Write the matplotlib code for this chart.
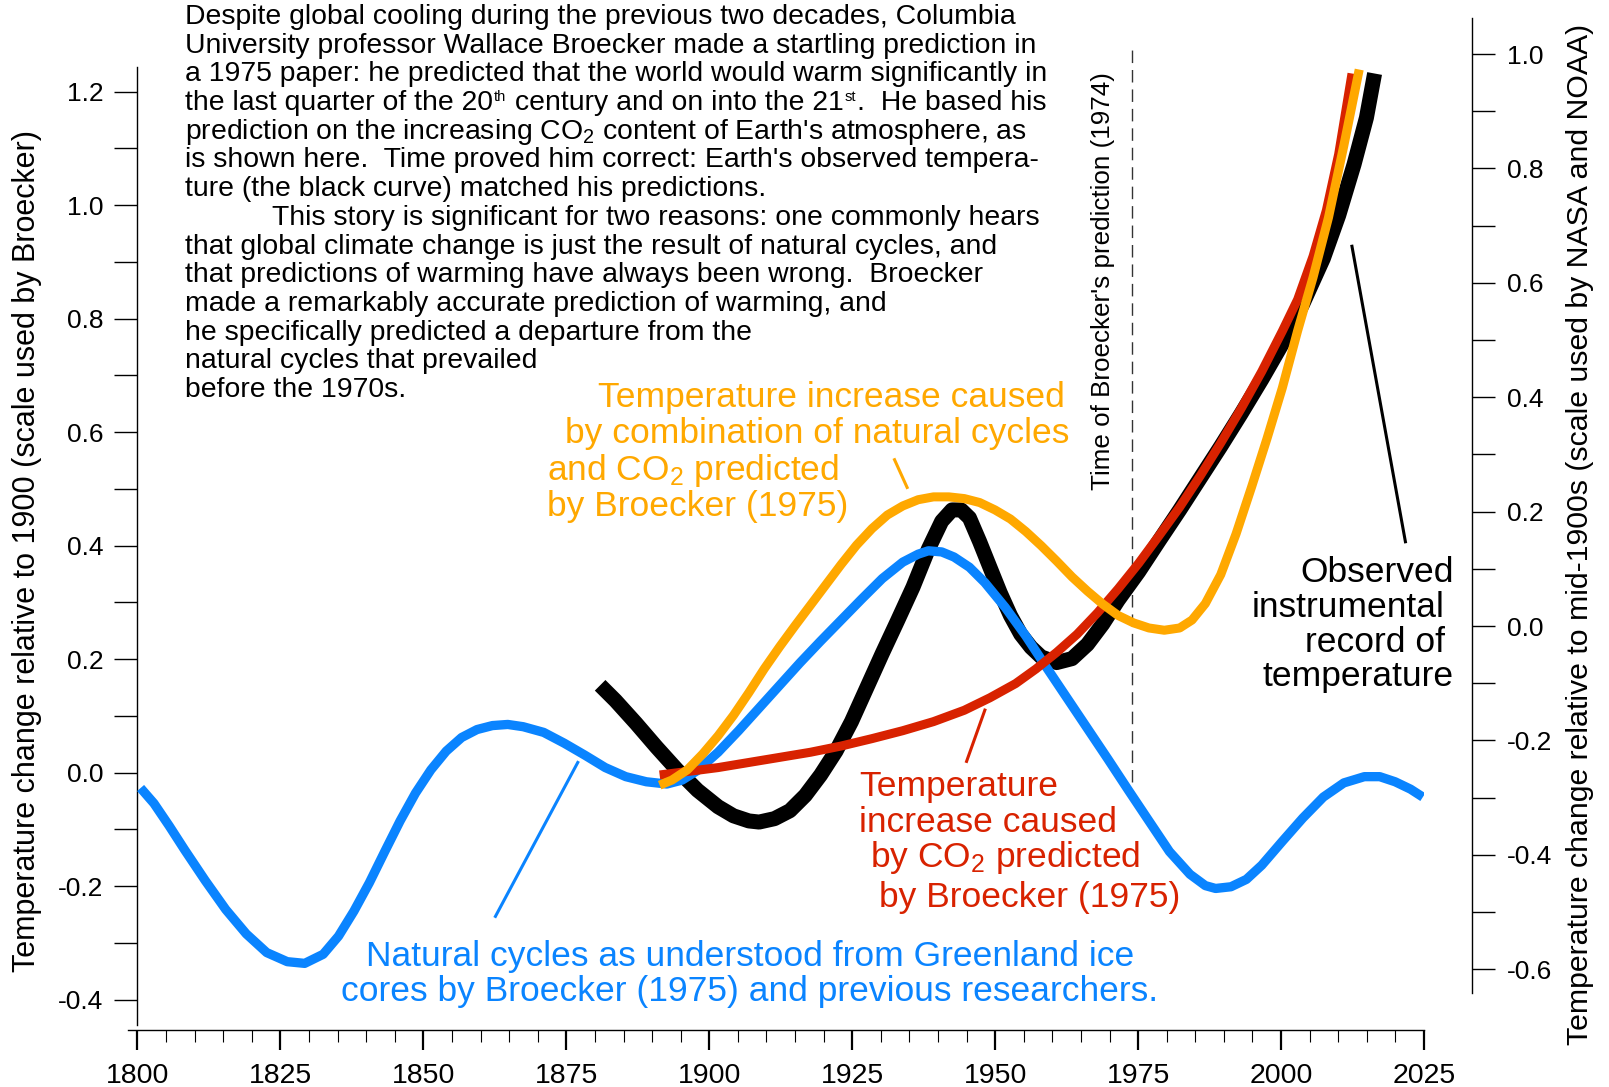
import matplotlib
matplotlib.use('Agg')
import matplotlib.pyplot as plt
from matplotlib.ticker import MultipleLocator, FormatStrFormatter

plt.rcParams['font.family'] = 'Liberation Sans'
plt.rcParams['mathtext.fontset'] = 'custom'
plt.rcParams['mathtext.rm'] = 'Liberation Sans'
plt.rcParams['mathtext.it'] = 'Liberation Sans:italic'
plt.rcParams['mathtext.bf'] = 'Liberation Sans:bold'
plt.rcParams['axes.unicode_minus'] = False

BLUE = '#0A84FF'
ORANGE = '#FFA800'
RED = '#D82200'

# --- natural cycles (Greenland ice cores, Broecker 1975) ---
natural_years = [1800.54, 1802.87, 1805.56, 1808.25, 1811.84, 1815.43, 1819.02, 1822.60,
                 1826.19, 1829.24, 1832.47, 1835.16, 1837.85, 1840.55, 1843.24, 1845.93,
                 1848.62, 1851.31, 1854.00, 1856.69, 1859.38, 1862.07, 1864.76, 1867.46,
                 1871.04, 1874.63, 1878.22, 1881.81, 1885.40, 1888.99, 1892.57, 1895.26,
                 1897.95, 1901.54, 1905.13, 1908.72, 1912.31, 1915.90, 1919.48, 1923.07,
                 1926.66, 1930.25, 1933.84, 1936.53, 1938.32, 1940.65, 1942.81, 1945.50,
                 1948.19, 1951.78, 1955.36, 1958.95, 1962.54, 1966.13, 1969.72, 1973.31,
                 1976.89, 1980.48, 1984.07, 1986.76, 1988.55, 1991.24, 1993.94, 1996.63,
                 2000.22, 2003.80, 2007.39, 2010.98, 2014.57, 2017.26, 2019.95, 2022.64,
                 2024.80]
natural_temp = [-0.027, -0.054, -0.094, -0.136, -0.190, -0.241, -0.284, -0.317,
                -0.333, -0.336, -0.320, -0.288, -0.244, -0.194, -0.139, -0.085,
                -0.036, 0.005, 0.038, 0.062, 0.076, 0.083, 0.085, 0.081,
                0.071, 0.052, 0.031, 0.009, -0.007, -0.016, -0.020, -0.013,
                0.004, 0.036, 0.074, 0.114, 0.154, 0.194, 0.232, 0.269,
                0.306, 0.342, 0.371, 0.385, 0.391, 0.389, 0.380, 0.362,
                0.335, 0.291, 0.241, 0.186, 0.132, 0.078, 0.024, -0.031,
                -0.085, -0.139, -0.179, -0.199, -0.204, -0.201, -0.188, -0.163,
                -0.121, -0.080, -0.043, -0.018, -0.007, -0.007, -0.016, -0.029,
                -0.043]

# --- observed instrumental record ---
observed_years = [1880.91, 1883.60, 1887.19, 1890.78, 1894.37, 1897.95, 1901.54, 1904.23,
                  1906.92, 1908.72, 1911.41, 1914.10, 1916.79, 1919.48, 1922.17, 1924.87,
                  1927.56, 1930.25, 1932.94, 1935.63, 1938.32, 1940.65, 1942.45, 1944.06,
                  1945.50, 1947.29, 1949.08, 1950.88, 1952.67, 1954.47, 1956.26, 1958.05,
                  1960.75, 1963.44, 1966.13, 1968.82, 1971.51, 1975.10, 1978.69, 1982.27,
                  1985.86, 1989.45, 1993.04, 1996.63, 2000.22, 2003.80, 2007.39, 2010.08,
                  2012.77, 2014.93, 2016.36]
observed_temp = [0.154, 0.127, 0.087, 0.045, 0.005, -0.031, -0.060, -0.076,
                 -0.085, -0.087, -0.081, -0.067, -0.040, -0.004, 0.038, 0.090,
                 0.150, 0.210, 0.268, 0.327, 0.394, 0.443, 0.463, 0.463,
                 0.449, 0.407, 0.362, 0.317, 0.277, 0.244, 0.221, 0.204,
                 0.194, 0.201, 0.226, 0.262, 0.304, 0.354, 0.409, 0.463,
                 0.519, 0.575, 0.633, 0.693, 0.756, 0.826, 0.906, 0.982,
                 1.072, 1.154, 1.232]

# --- natural cycles + CO2 (Broecker 1975) ---
combined_years = [1891.32, 1893.47, 1896.16, 1898.85, 1901.54, 1904.23, 1906.92, 1909.61,
                  1912.31, 1915.00, 1917.69, 1920.38, 1923.07, 1925.76, 1928.45, 1931.14,
                  1933.84, 1936.53, 1939.22, 1941.91, 1944.60, 1947.29, 1949.98, 1952.67,
                  1955.36, 1958.05, 1960.75, 1963.44, 1966.13, 1968.82, 1971.51, 1974.20,
                  1976.89, 1979.58, 1982.27, 1984.43, 1986.76, 1989.45, 1992.14, 1994.83,
                  1997.52, 2000.22, 2002.91, 2005.60, 2008.29, 2010.98, 2013.67]
combined_temp = [-0.022, -0.013, 0.005, 0.033, 0.065, 0.101, 0.141, 0.183,
                 0.222, 0.259, 0.295, 0.331, 0.367, 0.401, 0.430, 0.454,
                 0.470, 0.481, 0.486, 0.486, 0.483, 0.476, 0.463, 0.447,
                 0.425, 0.400, 0.373, 0.345, 0.320, 0.297, 0.277, 0.264,
                 0.255, 0.251, 0.255, 0.269, 0.298, 0.349, 0.421, 0.503,
                 0.588, 0.678, 0.779, 0.873, 0.978, 1.105, 1.239]

# --- CO2 only (Broecker 1975) ---
co2_years = [1891.32, 1896.16, 1901.54, 1906.92, 1912.31, 1917.69, 1923.07, 1928.45,
             1933.84, 1939.22, 1944.60, 1949.08, 1953.57, 1957.16, 1960.75, 1964.33,
             1967.92, 1971.51, 1975.10, 1978.69, 1982.27, 1985.86, 1989.45, 1993.04,
             1996.63, 2000.22, 2002.91, 2005.60, 2007.93, 2010.08, 2012.41]
co2_temp = [-0.004, 0.002, 0.009, 0.018, 0.027, 0.036, 0.047, 0.060,
            0.074, 0.090, 0.110, 0.132, 0.157, 0.183, 0.212, 0.244,
            0.282, 0.324, 0.369, 0.418, 0.468, 0.523, 0.581, 0.642,
            0.707, 0.778, 0.834, 0.910, 0.991, 1.090, 1.232]

prediction_year = 1974

# paragraph; line 4 is built in pieces so the ordinals can be small superscripts
story_lines = [
    "Despite global cooling during the previous two decades, Columbia",
    "University professor Wallace Broecker made a startling prediction in",
    "a 1975 paper: he predicted that the world would warm significantly in",
    None,
    r"prediction on the increasing CO$_{2}$ content of Earth's atmosphere, as",
    "is shown here.  Time proved him correct: Earth's observed tempera-",
    "ture (the black curve) matched his predictions.",
    "This story is significant for two reasons: one commonly hears",
    "that global climate change is just the result of natural cycles, and",
    "that predictions of warming have always been wrong.  Broecker",
    "made a remarkably accurate prediction of warming, and",
    "he specifically predicted a departure from the",
    "natural cycles that prevailed",
    "before the 1970s.",
]
ordinal_line = ["the last quarter of the 20", "th",
                " century and on into the 21", "st", ".  He based his"]

fig = plt.figure(figsize=(16.09, 10.87), dpi=100)
ax = fig.add_axes([0.07977, 0.05244, 0.80525, 0.8862])
ax.set_xlim(1798.4, 2025)
ax.set_ylim(-0.4534, 1.244)

ax.plot([prediction_year, prediction_year], [-0.016, 1.275], color='#333333',
        lw=1.0, dashes=(9, 5), clip_on=False, zorder=1)

ax.plot(observed_years, observed_temp, color='black', lw=10.8,
        solid_capstyle='butt', solid_joinstyle='round', zorder=2)
ax.plot(natural_years, natural_temp, color=BLUE, lw=6.7,
        solid_capstyle='butt', solid_joinstyle='round', zorder=3)
ax.plot(co2_years, co2_temp, color=RED, lw=6.5,
        solid_capstyle='butt', solid_joinstyle='round', zorder=4, clip_on=False)
ax.plot(combined_years, combined_temp, color=ORANGE, lw=6.5,
        solid_capstyle='butt', solid_joinstyle='round', zorder=5, clip_on=False)

# spines and ticks
for s in ['top', 'right']:
    ax.spines[s].set_visible(False)
ax.spines['left'].set_position(('data', 1800))
ax.spines['left'].set_bounds(-0.445, 1.244)
ax.spines['left'].set_linewidth(1.0)
ax.spines['bottom'].set_linewidth(1.0)

ax.xaxis.set_major_locator(MultipleLocator(25))
ax.xaxis.set_minor_locator(MultipleLocator(5))
ax.tick_params(axis='x', which='major', length=14.4, width=1.6, pad=9.5,
               labelsize=20.5, direction='out')
ax.tick_params(axis='x', which='minor', length=8.6, width=0.8, direction='out')

ax.set_yticks([-0.4, -0.2, 0.0, 0.2, 0.4, 0.6, 0.8, 1.0, 1.2])
ax.yaxis.set_minor_locator(MultipleLocator(0.1))
ax.yaxis.set_major_formatter(FormatStrFormatter('%.1f'))
ax.tick_params(axis='y', which='both', length=16.5, width=1.0, direction='out')
ax.tick_params(axis='y', which='major', labelsize=19, pad=8)

# right-hand scale (NASA / NOAA)
ax2 = fig.add_axes([0.91361, 0.08611, 0.001, 0.89688])
ax2.set_ylim(-0.6423, 1.0621)
ax2.patch.set_visible(False)
for s in ['top', 'bottom', 'left']:
    ax2.spines[s].set_visible(False)
ax2.spines['right'].set_linewidth(1.0)
ax2.set_xticks([])
ax2.yaxis.tick_right()
ax2.set_yticks([-0.6, -0.4, -0.2, 0.0, 0.2, 0.4, 0.6, 0.8, 1.0])
ax2.yaxis.set_minor_locator(MultipleLocator(0.1))
ax2.yaxis.set_major_formatter(FormatStrFormatter('%.1f'))
ax2.tick_params(axis='y', which='both', length=16.3, width=1.0, direction='out')
ax2.tick_params(axis='y', which='major', labelsize=19, pad=9)

fig.text(27 / 1609, 1 - 551 / 1087,
         'Temperature change relative to 1900 (scale used by Broecker)',
         rotation=90, ha='center', va='center', fontsize=22)
fig.text(1580 / 1609, 1 - 534 / 1087,
         'Temperature change relative to mid-1900s (scale used by NASA and NOAA)',
         rotation=90, ha='center', va='center', fontsize=21.8)

# explanatory paragraph
PARA = 20.4
for i, line in enumerate(story_lines):
    x = 1823.5 if i == 7 else 1808.3
    y = 1.3193 - 0.05057 * i
    if line is not None:
        ax.text(x, y, line, fontsize=PARA, va='baseline', ha='left')
        continue
    base = ax.text(x, y, ordinal_line[0], fontsize=PARA, va='baseline', ha='left')
    prev = base
    for j, piece in enumerate(ordinal_line[1:]):
        if j % 2 == 0:   # superscript
            prev = ax.annotate(piece, xy=(1, 1), xycoords=(prev, base),
                               xytext=(0.6, 0), textcoords='offset points',
                               fontsize=10.5, va='top', ha='left')
        else:
            prev = ax.annotate(piece, xy=(1, 0), xycoords=(prev, base),
                               xytext=(0.6, 0), textcoords='offset points',
                               fontsize=PARA, va='bottom', ha='left')

ax.text(1968.8, 0.8664, "Time of Broecker's prediction (1974)", rotation=90,
        ha='center', va='center', fontsize=18.7)

# orange label
ax.text(1880.5, 0.6444, 'Temperature increase caused', color=ORANGE, fontsize=25.5, va='baseline')
ax.text(1874.7, 0.5810, 'by combination of natural cycles', color=ORANGE, fontsize=25.5, va='baseline')
ax.text(1871.6, 0.5158, r'and CO$_{2}$ predicted', color=ORANGE, fontsize=25.5, va='baseline')
ax.text(1871.6, 0.4523, 'by Broecker (1975)', color=ORANGE, fontsize=25.5, va='baseline')
ax.plot([1932.4, 1934.6], [0.5515, 0.5026], color=ORANGE, lw=2.2, clip_on=False)

# red label
ax.text(1926.2, -0.0411, 'Temperature', color=RED, fontsize=25.5, va='baseline')
ax.text(1926.2, -0.1040, 'increase caused', color=RED, fontsize=25.5, va='baseline')
ax.text(1928.1, -0.1667, r'by CO$_{2}$ predicted', color=RED, fontsize=25.5, va='baseline')
ax.text(1929.7, -0.2361, 'by Broecker (1975)', color=RED, fontsize=25.5, va='baseline')
ax.plot([1948.2, 1945.0], [0.1103, 0.0199], color=RED, lw=2.2)

# blue label
ax.text(1907.1, -0.3401, 'Natural cycles as understood from Greenland ice',
        color=BLUE, fontsize=25.5, va='baseline', ha='center')
ax.text(1907.1, -0.4016, 'cores by Broecker (1975) and previous researchers.',
        color=BLUE, fontsize=25.5, va='baseline', ha='center')
ax.plot([1877.0, 1862.6], [0.0180, -0.2532], color=BLUE, lw=2.2)

# black label
ax.text(2003.4, 0.3366, 'Observed', color='black', fontsize=25.5, va='baseline')
ax.text(1994.9, 0.2738, 'instrumental', color='black', fontsize=25.5, va='baseline')
ax.text(2004.2, 0.2132, 'record of', color='black', fontsize=25.5, va='baseline')
ax.text(1996.8, 0.1528, 'temperature', color='black', fontsize=25.5, va='baseline')
ax.plot([2012.4, 2021.75], [0.9276, 0.4069], color='black', lw=2.2, clip_on=False)

fig.savefig('out.png', dpi=100)
